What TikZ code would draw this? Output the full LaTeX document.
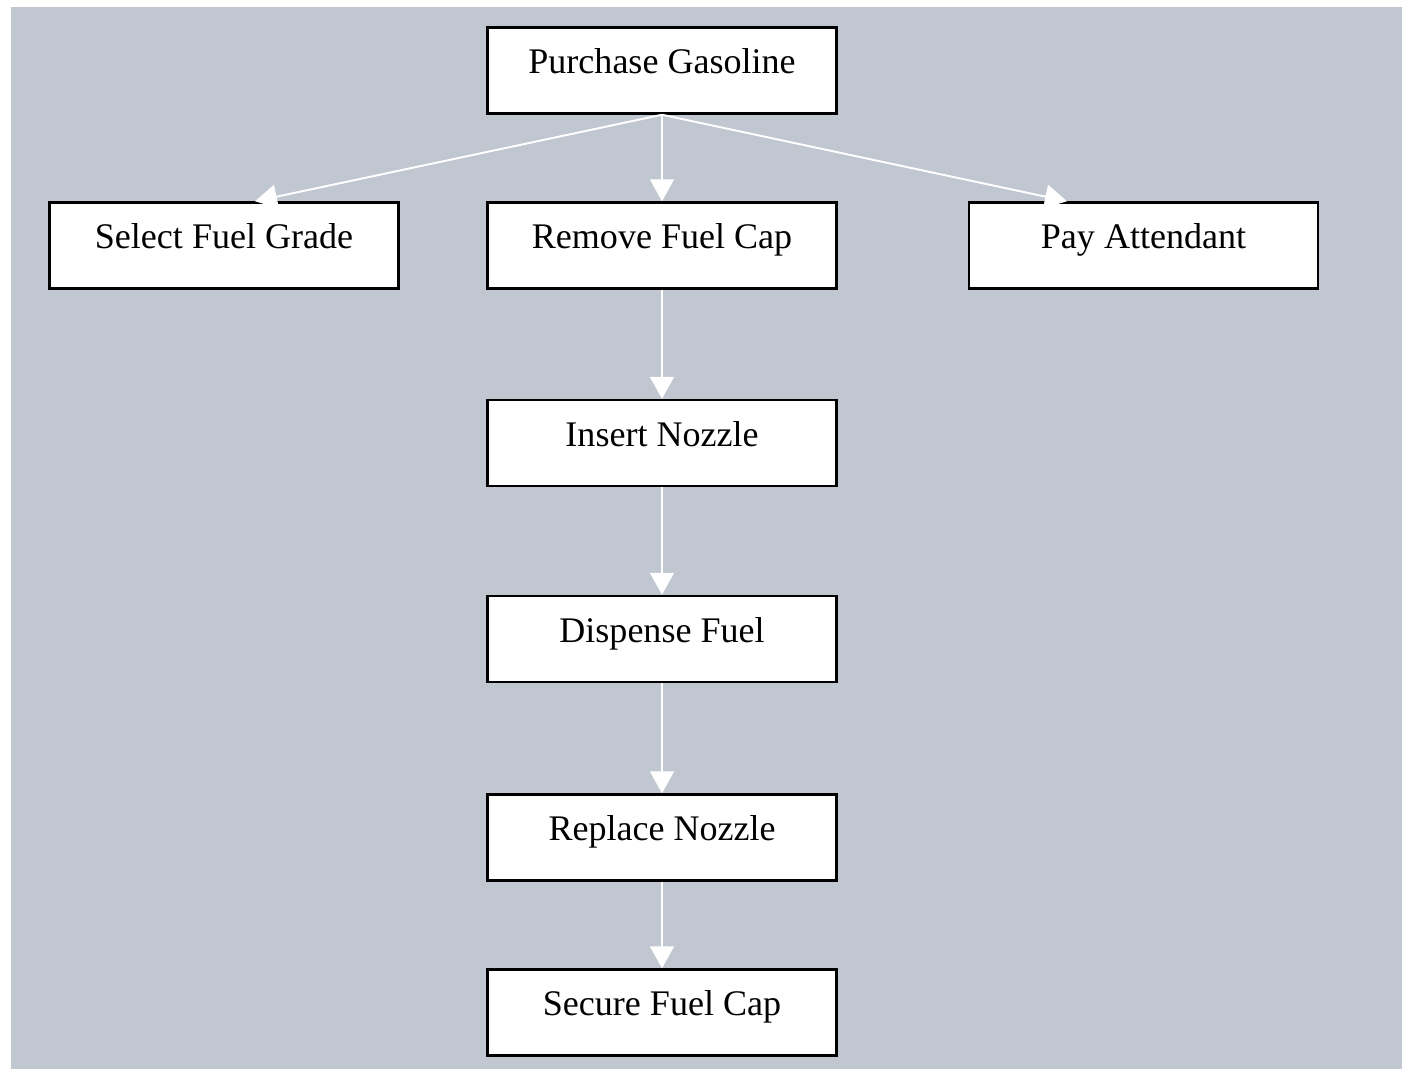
\documentclass[tikz,border=0pt]{standalone}
\usepackage{fontspec}
\setmainfont{Liberation Serif}
\usetikzlibrary{arrows.meta}
\definecolor{panel}{RGB}{192,199,209}

\begin{document}
\begin{tikzpicture}[>={Triangle[width=0.48cm,length=0.44cm]}, line join=miter,
    task/.style={draw=black, line width=1.4pt, fill=white, inner sep=0pt,
      minimum width=6.98cm, minimum height=1.72cm,
      text height=12pt, text depth=8.6pt, font=\fontsize{20.5}{24}\selectfont},
    flow/.style={->, white, line width=1.1pt}]
  \useasboundingbox (0,0) rectangle (28.04,-21.38);
  \fill[panel] (0.22,-0.14) rectangle (28.04,-21.38);

  % top of the tree
  \node[task] (buy) at (13.24,-1.41) {Purchase Gasoline};
  \node[task] (grade) at (4.48,-4.91) {Select Fuel Grade};
  \node[task] (cap) at (13.24,-4.91) {Remove Fuel Cap};
  \node[task] (pay) at (22.87,-4.91) {Pay Attendant};

  % the pumping steps
  \node[task] (insert) at (13.24,-8.86) {Insert Nozzle};
  \node[task] (pump) at (13.24,-12.78) {Dispense Fuel};
  \node[task] (replace) at (13.24,-16.75) {Replace Nozzle};
  \node[task] (secure) at (13.24,-20.25) {Secure Fuel Cap};

  \draw[flow] (buy.south) -- ([xshift=0.62cm]grade.north);
  \draw[flow] (buy.south) -- (cap.north);
  \draw[flow] (buy.south) -- ([xshift=-1.53cm]pay.north);
  \draw[flow] (cap.south) -- (insert.north);
  \draw[flow] (insert.south) -- (pump.north);
  \draw[flow] (pump.south) -- (replace.north);
  \draw[flow] (replace.south) -- (secure.north);
\end{tikzpicture}
\end{document}
